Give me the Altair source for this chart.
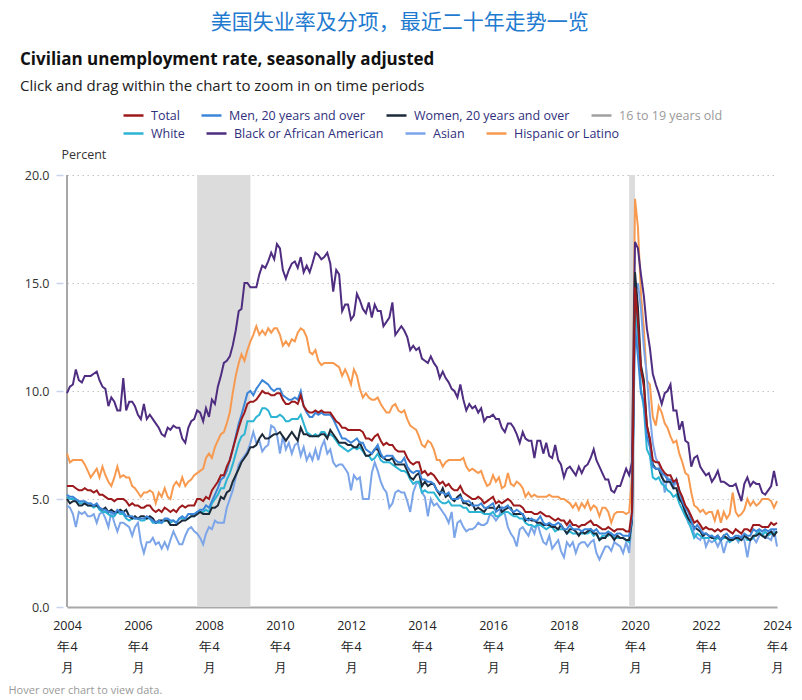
import altair as alt
import pandas as pd

# Monthly values, Apr 2004 .. Apr 2024 (one line per year)
total = [
    5.6,5.6,5.6,5.5,5.4,5.4,5.5,5.4,5.4,
    5.3,5.4,5.2,5.2,5.1,5.0,5.0,4.9,5.0,5.0,5.0,4.9,
    4.7,4.8,4.7,4.7,4.6,4.6,4.7,4.7,4.5,4.4,4.5,4.4,
    4.6,4.5,4.4,4.5,4.4,4.6,4.7,4.6,4.7,4.7,4.7,5.0,
    5.0,4.9,5.1,5.0,5.4,5.6,5.8,6.1,6.1,6.5,6.8,7.3,
    7.8,8.3,8.7,9.0,9.4,9.5,9.5,9.6,9.8,10.0,9.9,9.9,
    9.8,9.8,9.9,9.9,9.6,9.4,9.4,9.5,9.5,9.4,9.8,9.3,
    9.1,9.0,9.0,9.1,9.0,9.1,9.0,9.0,9.0,8.8,8.6,8.5,
    8.3,8.3,8.2,8.2,8.2,8.2,8.2,8.1,7.8,7.8,7.7,7.9,
    8.0,7.7,7.5,7.6,7.5,7.5,7.3,7.2,7.2,7.2,6.9,6.7,
    6.6,6.7,6.7,6.2,6.3,6.1,6.2,6.1,5.9,5.7,5.8,5.6,
    5.7,5.5,5.4,5.4,5.6,5.3,5.2,5.1,5.0,5.0,5.1,5.0,
    4.8,4.9,5.0,5.1,4.8,4.9,4.8,4.9,5.0,4.9,4.7,4.7,
    4.7,4.6,4.4,4.4,4.4,4.3,4.3,4.4,4.3,4.2,4.2,4.1,
    4.0,4.1,4.0,4.0,3.8,4.0,3.8,3.8,3.7,3.8,3.8,3.9,
    4.0,3.8,3.8,3.7,3.6,3.6,3.7,3.6,3.5,3.6,3.6,3.6,
    3.5,3.5,4.4,14.8,13.2,11.0,10.2,8.4,7.8,6.8,6.7,6.7,
    6.4,6.2,6.1,6.1,5.8,5.9,5.4,5.1,4.7,4.5,4.2,3.9,
    4.0,3.8,3.6,3.7,3.6,3.6,3.5,3.6,3.5,3.6,3.6,3.5,
    3.4,3.6,3.5,3.4,3.6,3.6,3.5,3.8,3.8,3.8,3.7,3.7,
    3.7,3.9,3.8,3.9,
]
men20 = [
    5.2,5.1,5.1,5.0,4.9,4.9,4.9,4.8,4.8,
    4.7,4.8,4.6,4.5,4.5,4.4,4.4,4.3,4.5,4.4,4.4,4.2,
    4.2,4.2,4.1,4.1,4.1,4.1,4.2,4.1,4.0,3.9,4.0,3.9,
    4.1,4.1,4.0,4.0,3.9,4.1,4.2,4.1,4.3,4.3,4.3,4.4,
    4.5,4.5,4.7,4.6,4.9,5.2,5.5,5.9,6.0,6.3,6.8,7.3,
    7.9,8.5,8.9,9.4,9.9,10.0,9.8,10.1,10.3,10.5,10.4,10.3,
    10.1,10.0,10.1,10.1,9.8,9.7,9.6,9.6,9.7,9.6,10.0,9.3,
    9.0,8.8,8.8,9.0,8.9,9.0,8.9,8.9,8.9,8.7,8.4,8.1,
    7.8,7.8,7.7,7.6,7.7,7.8,7.6,7.6,7.3,7.2,7.1,7.3,
    7.5,7.1,6.9,7.0,7.0,7.0,6.8,6.7,6.7,6.9,6.5,6.3,
    6.2,6.3,6.3,5.9,5.9,5.8,5.8,5.7,5.4,5.3,5.3,5.2,
    5.3,5.0,5.0,5.0,5.1,4.9,4.9,4.9,4.7,4.7,4.7,4.8,
    4.6,4.6,4.7,4.8,4.4,4.5,4.6,4.6,4.7,4.5,4.4,4.5,
    4.4,4.3,4.1,4.0,4.1,4.0,4.0,4.2,3.9,3.8,3.9,3.8,
    3.8,3.9,3.8,3.6,3.6,3.8,3.6,3.6,3.6,3.5,3.6,3.6,
    3.6,3.5,3.6,3.4,3.4,3.4,3.5,3.4,3.3,3.4,3.4,3.3,
    3.3,3.3,4.1,13.0,11.6,9.9,9.5,7.9,7.4,6.5,6.4,6.4,
    6.2,6.1,5.9,5.9,5.7,5.9,5.4,4.9,4.6,4.4,4.0,3.6,
    3.8,3.6,3.4,3.4,3.3,3.3,3.2,3.3,3.1,3.3,3.4,3.2,
    3.2,3.3,3.3,3.2,3.4,3.3,3.3,3.6,3.5,3.6,3.5,3.6,
    3.5,3.6,3.6,3.6,
]
women20 = [
    5.0,4.8,4.9,4.9,4.7,4.7,4.8,4.7,4.7,
    4.7,4.7,4.6,4.5,4.6,4.4,4.5,4.4,4.4,4.5,4.4,4.5,
    4.2,4.1,4.2,4.1,4.2,4.2,4.1,4.2,4.1,3.9,4.0,4.0,
    4.0,4.0,3.8,3.8,3.8,3.9,4.0,4.0,4.1,4.2,4.2,4.3,
    4.4,4.3,4.3,4.3,4.6,4.6,4.7,5.1,5.0,5.3,5.4,5.8,
    6.1,6.4,6.7,6.9,7.1,7.4,7.4,7.5,7.8,8.0,7.8,7.8,
    7.9,8.0,8.0,8.1,7.9,7.7,7.9,8.1,7.9,7.7,8.3,8.0,
    8.0,7.9,7.9,7.9,7.9,8.0,8.0,7.8,8.2,8.0,7.8,7.6,
    7.6,7.6,7.5,7.5,7.4,7.4,7.6,7.3,7.0,7.0,7.1,7.3,
    7.3,7.0,6.9,6.8,6.8,6.9,6.6,6.6,6.6,6.6,6.3,6.0,
    5.9,6.1,6.2,5.6,5.8,5.6,5.7,5.7,5.4,5.2,5.5,5.1,
    5.2,5.0,4.9,5.1,5.2,4.8,4.8,4.7,4.8,4.5,4.6,4.5,
    4.4,4.6,4.6,4.6,4.5,4.7,4.4,4.5,4.6,4.6,4.3,4.3,
    4.3,4.3,4.0,4.1,4.0,4.0,3.9,3.9,3.8,3.8,3.8,3.7,
    3.7,3.6,3.8,3.6,3.4,3.6,3.6,3.5,3.3,3.5,3.4,3.5,
    3.6,3.4,3.4,3.1,3.2,3.2,3.4,3.3,3.1,3.3,3.2,3.2,
    3.1,3.1,4.0,15.5,13.9,11.2,10.5,8.4,7.7,6.6,6.4,6.4,
    6.0,5.8,5.8,5.8,5.5,5.5,5.0,4.8,4.4,4.1,3.9,3.7,
    3.6,3.5,3.3,3.4,3.3,3.2,3.2,3.3,3.1,3.3,3.2,3.1,
    3.1,3.2,3.2,3.1,3.3,3.2,3.1,3.3,3.3,3.4,3.3,3.2,
    3.4,3.5,3.3,3.5,
]
white = [
    5.1,5.0,5.0,4.9,4.8,4.8,4.8,4.7,4.7,
    4.6,4.7,4.5,4.4,4.4,4.3,4.2,4.2,4.4,4.3,4.3,4.1,
    4.0,4.1,4.1,4.1,4.0,4.0,4.1,4.1,3.9,3.9,3.9,3.9,
    4.0,4.0,3.9,4.0,3.9,4.1,4.1,4.1,4.1,4.2,4.2,4.4,
    4.4,4.4,4.5,4.4,4.8,5.0,5.2,5.5,5.5,5.9,6.2,6.6,
    7.1,7.6,7.9,8.0,8.6,8.6,8.6,8.8,8.9,9.2,9.2,9.1,
    8.8,8.8,8.8,8.9,8.8,8.6,8.6,8.7,8.7,8.7,8.9,8.5,
    8.1,8.0,7.9,8.0,7.9,8.1,8.1,7.9,8.0,7.9,7.7,7.5,
    7.4,7.3,7.2,7.3,7.4,7.3,7.4,7.2,7.0,7.0,6.8,6.9,
    7.1,6.8,6.7,6.7,6.7,6.6,6.5,6.4,6.3,6.3,6.2,5.9,
    5.7,5.8,5.8,5.3,5.4,5.3,5.3,5.3,5.1,4.9,4.8,4.8,
    4.9,4.7,4.7,4.7,4.7,4.6,4.6,4.4,4.4,4.4,4.4,4.4,
    4.3,4.3,4.3,4.4,4.2,4.2,4.3,4.4,4.4,4.3,4.2,4.2,
    4.1,4.1,3.9,3.8,3.8,3.7,3.8,3.8,3.7,3.6,3.7,3.7,
    3.5,3.6,3.6,3.6,3.4,3.5,3.4,3.4,3.4,3.4,3.4,3.4,
    3.5,3.3,3.4,3.1,3.3,3.3,3.3,3.4,3.2,3.2,3.2,3.2,
    3.1,3.0,4.0,14.2,12.4,10.1,9.2,7.3,7.0,6.0,5.9,6.0,
    5.7,5.6,5.4,5.3,5.1,5.2,4.8,4.5,4.2,4.0,3.6,3.2,
    3.4,3.3,3.2,3.2,3.2,3.3,3.1,3.2,3.1,3.2,3.2,3.0,
    3.1,3.2,3.1,3.1,3.3,3.1,3.1,3.2,3.4,3.5,3.3,3.5,
    3.3,3.4,3.4,3.5,
]
black = [
    9.9,10.2,10.3,11.0,10.5,10.4,10.7,10.7,10.7,
    10.8,10.9,10.5,10.2,10.1,9.3,9.7,9.5,9.1,9.1,10.6,9.1,
    9.5,9.5,9.3,8.9,8.7,9.4,8.7,8.9,8.7,8.5,8.3,8.0,
    7.9,8.3,8.2,8.4,8.3,8.3,7.8,7.6,8.3,8.6,8.7,9.1,
    9.0,8.6,9.2,8.8,9.6,9.4,10.2,10.7,11.3,11.4,11.6,12.1,
    12.8,13.7,13.8,15.0,15.0,14.8,14.8,14.8,15.4,15.8,15.7,16.0,
    16.4,16.1,16.8,16.6,15.6,15.2,15.6,15.9,16.0,15.7,16.2,15.5,
    15.8,15.5,15.9,16.4,16.3,16.1,16.2,16.4,15.9,14.6,15.6,15.4,
    13.7,14.0,14.0,13.3,13.5,14.5,14.2,13.8,13.6,14.1,13.4,14.0,
    13.7,13.7,13.0,13.2,13.4,14.1,12.6,12.8,13.0,12.8,12.5,11.9,
    12.1,11.9,12.0,11.5,11.4,11.3,11.6,11.3,11.1,10.6,10.9,10.6,
    10.4,10.1,10.0,9.7,10.3,9.6,9.1,9.4,9.2,9.3,9.0,9.2,
    8.6,8.8,8.8,8.9,8.7,8.7,8.3,8.1,8.5,8.5,8.3,8.0,
    7.6,8.1,7.8,7.7,7.7,6.9,7.7,7.7,7.1,7.6,7.0,6.9,
    7.5,6.8,6.6,6.0,6.4,6.5,6.3,6.1,6.5,6.2,6.5,6.6,
    6.9,7.3,6.8,6.5,6.2,5.9,5.9,5.4,5.3,5.6,5.6,6.0,
    6.4,6.1,6.7,16.9,16.6,15.4,14.4,12.9,12.0,10.8,10.3,9.9,
    9.4,9.9,10.0,10.3,9.1,9.1,8.2,8.6,7.7,7.6,6.5,6.9,
    7.0,6.5,6.3,6.1,6.2,5.8,6.0,6.3,5.8,5.8,5.7,5.6,
    5.6,5.7,5.3,4.9,5.7,6.0,5.6,5.8,5.7,5.7,5.3,5.2,
    5.4,5.6,6.3,5.6,
]
asian = [
    4.7,4.6,4.3,3.7,4.4,4.3,4.4,4.2,4.2,
    4.3,3.9,4.3,4.4,4.1,3.7,4.4,3.9,3.5,3.9,3.9,3.8,
    3.7,3.3,3.7,3.9,3.0,2.5,3.0,3.0,3.2,2.9,3.0,2.7,
    3.0,2.7,3.1,3.5,3.2,2.9,2.9,3.3,3.6,3.7,3.5,3.4,
    3.2,2.9,3.4,3.7,3.6,4.0,3.9,3.9,3.9,4.6,5.0,5.4,
    6.0,6.6,6.8,7.0,7.2,7.6,8.1,7.6,7.7,7.2,7.4,7.5,
    8.4,8.3,8.0,7.1,7.9,7.3,7.6,7.1,7.5,7.6,7.0,7.4,
    6.8,7.1,6.8,7.3,6.8,7.4,7.7,7.1,7.3,6.7,6.5,6.6,
    6.6,6.4,6.2,5.4,6.1,5.9,6.0,5.0,5.0,5.0,6.2,6.7,
    6.3,5.8,5.5,5.3,4.6,4.8,5.3,5.4,5.3,5.3,4.9,4.4,
    5.3,5.7,5.8,5.3,5.1,4.2,5.0,4.7,4.8,4.6,4.4,4.2,
    3.9,4.4,3.2,3.9,4.0,3.7,3.5,3.6,3.6,3.7,3.9,3.8,
    3.8,3.9,4.3,4.2,4.0,4.2,4.6,4.3,3.7,3.4,3.2,2.8,
    3.6,3.7,3.5,3.3,3.7,3.4,3.9,3.4,3.0,2.9,3.3,2.7,
    2.9,3.1,2.6,2.3,3.0,2.8,3.0,2.5,2.9,3.0,3.0,2.8,
    3.0,3.1,2.5,2.2,2.5,2.8,2.8,2.6,3.0,2.9,2.8,2.5,
    3.0,2.5,4.1,14.5,15.0,13.8,12.0,10.7,8.9,7.6,6.9,6.6,
    6.3,5.3,6.0,5.7,5.5,5.9,5.3,4.8,4.3,3.9,3.7,3.4,
    3.2,3.1,3.4,2.8,3.1,3.0,3.1,2.8,3.1,2.5,3.0,3.1,
    3.1,3.2,3.0,3.3,3.1,2.3,3.1,3.2,3.0,3.3,3.4,3.2,
    3.2,3.1,3.6,2.8,
]
hispanic = [
    7.1,6.7,6.8,6.8,6.8,6.8,6.6,6.3,6.0,
    6.2,6.4,6.0,6.5,6.1,5.8,5.6,6.0,6.5,6.0,6.1,6.0,
    6.0,5.6,5.5,5.3,5.1,5.3,5.3,5.4,5.3,4.8,5.3,5.1,
    5.5,5.1,5.0,5.6,5.8,5.6,6.0,5.6,5.8,5.9,6.1,6.2,
    6.3,6.4,6.9,7.1,6.9,7.4,7.7,8.0,8.1,8.5,9.0,9.9,
    10.7,11.3,11.7,11.4,11.9,12.3,12.6,13.0,12.6,12.8,12.6,12.9,
    12.7,12.9,12.9,12.6,12.1,12.3,12.1,12.4,12.3,12.7,12.9,12.8,
    12.5,11.8,11.7,11.9,11.4,11.2,11.3,11.3,11.3,11.3,11.2,11.1,
    10.7,11.0,10.7,10.3,11.0,10.7,10.1,9.7,9.9,9.7,9.6,9.6,
    9.7,9.4,9.2,9.0,9.0,9.3,9.4,9.1,9.0,9.1,8.7,8.4,
    8.3,8.2,7.9,7.5,7.4,7.7,7.6,7.3,6.8,6.8,6.5,6.7,
    6.8,6.8,6.8,6.8,6.8,6.9,6.5,6.3,6.4,6.3,6.2,6.3,
    5.9,5.6,5.7,6.1,5.8,6.0,5.5,5.6,6.2,5.7,5.6,5.8,
    5.7,5.5,5.1,5.3,5.1,5.2,5.1,5.1,5.1,5.1,5.2,5.1,
    5.1,5.1,5.0,5.0,4.9,4.8,4.6,4.8,4.5,4.8,4.6,4.9,
    4.5,4.7,4.6,4.2,4.6,4.6,4.4,3.9,4.3,4.4,4.4,4.4,
    4.3,4.4,6.0,18.9,17.6,14.5,12.9,10.5,10.3,8.8,8.4,9.3,
    9.0,8.5,8.3,7.9,7.6,7.7,7.1,6.7,6.2,6.1,5.3,4.7,
    4.6,4.4,4.5,4.3,4.4,4.4,4.0,4.5,3.9,4.4,4.1,4.3,
    5.3,4.4,4.2,4.3,4.5,5.0,4.7,4.9,4.7,4.8,5.0,5.0,
    5.0,4.9,4.6,4.9,
]

# Legend row 1 and row 2 (each row is its own legend so it flows like the original)
row1_names = ["Total", "Men, 20 years and over", "Women, 20 years and over", "16 to 19 years old"]
row1_colors = ["#9C1A1C", "#3C86DA", "#1C2A3A", "#A0A0A0"]
row2_names = ["White", "Black or African American", "Asian", "Hispanic or Latino"]
row2_colors = ["#2BB4D3", "#4F2D80", "#7BA5E8", "#F79A50"]

recession_start = ["2007-12-01", "2020-02-01"]
recession_end = ["2009-06-01", "2020-04-01"]
tick_years = list(range(2004, 2025, 2))

dates = pd.date_range("2004-04-01", "2024-04-01", freq="MS").strftime("%Y-%m-%d")


def long_frame(pairs):
    rows = []
    for name, vals in pairs:
        assert len(vals) == len(dates), (name, len(vals))
        for d, v in zip(dates, vals):
            rows.append({"date": d, "value": v, "series": name})
    return pd.DataFrame(rows)


df_row2 = long_frame([("Hispanic or Latino", hispanic), ("Black or African American", black),
                      ("Asian", asian), ("White", white)])
df_row1 = long_frame([("Women, 20 years and over", women20),
                      ("Men, 20 years and over", men20), ("Total", total)])
rec_df = pd.DataFrame({"start": recession_start, "end": recession_end})
edge_df = pd.DataFrame({"date": [dates[0]]})

x_scale = alt.Scale(
    type="utc",
    domain=[alt.DateTime(year=2004, month=4, date=1, utc=True),
            alt.DateTime(year=2024, month=4, date=1, utc=True)],
)
y_scale = alt.Scale(domain=[0, 20], nice=False)

x_axis = alt.Axis(
    values=[alt.DateTime(year=y, month=4, date=1, utc=True) for y in tick_years],
    labelExpr="[utcFormat(datum.value, '%Y'), '年' + utcFormat(datum.value, '%-m'), '月']",
    ticks=False, grid=False, domainColor="#a8a8a8", domainWidth=2,
    labelPadding=12, labelFontSize=12.5, labelColor="#222222", labelLineHeight=21,
    labelAngle=0, labelFlush=False, labelOverlap=False,
    title="Hover over chart to view data.", titleX=-59, titleY=83,
    titleAlign="left", titleBaseline="middle", titleFontSize=11,
    titleFontWeight="normal", titleColor="#9a9a9a",
)
y_axis = alt.Axis(
    values=[0, 5, 10, 15, 20], format=".1f", domain=False,
    tickColor="#c9d3ec", tickSize=7, tickWidth=1.5, offset=4,
    labelPadding=7, labelFontSize=12.5, labelColor="#333333",
    grid=True, gridColor="#c4c4c4", gridDash=[1.5, 3.5], gridWidth=1.2,
    title="Percent", titleAngle=0, titleAlign="left", titleBaseline="alphabetic",
    titleX=-2, titleY=-17, titleFontSize=12.5, titleFontWeight="normal",
    titleColor="#333333",
)


def row_legend(y):
    return alt.Legend(
        orient="none", legendX=55, legendY=y, direction="horizontal",
        columnPadding=16, symbolType="stroke",
        symbolSize=400, symbolStrokeWidth=2.5, labelFontSize=12.5, labelOffset=6,
        labelLimit=0, title=None,
        labelColor={"expr": "datum.label == '16 to 19 years old' ? '#9a9a9a' : '#30307c'"},
    )


rec = alt.Chart(rec_df).mark_rect(color="#dcdcdc").encode(
    x=alt.X("start:T", scale=x_scale, axis=x_axis),
    x2="end:T",
    y=alt.datum(0, scale=y_scale, axis=y_axis),
    y2=alt.datum(20),
)
edge = alt.Chart(edge_df).mark_rule(color="#a8a8a8", strokeWidth=2).encode(
    x="date:T", y=alt.datum(0), y2=alt.datum(20),
)
lines_row2 = alt.Chart(df_row2).mark_line(strokeWidth=2).encode(
    x=alt.X("date:T", scale=x_scale, axis=x_axis),
    y=alt.Y("value:Q", scale=y_scale, axis=y_axis),
    color=alt.Color("series:N", scale=alt.Scale(domain=row2_names, range=row2_colors),
                    legend=row_legend(-53)),
)
lines_row1 = alt.Chart(df_row1).mark_line(strokeWidth=2).encode(
    x=alt.X("date:T", scale=x_scale, axis=x_axis),
    y=alt.Y("value:Q", scale=y_scale, axis=y_axis),
    stroke=alt.Stroke("series:N", scale=alt.Scale(domain=row1_names, range=row1_colors),
                      legend=row_legend(-71)),
)

inner = alt.layer(rec, edge, lines_row2, lines_row1).properties(
    width=710, height=432,
    title=alt.TitleParams(
        text="Civilian unemployment rate, seasonally adjusted",
        subtitle="Click and drag within the chart to zoom in on time periods",
        anchor="start", frame="bounds", dx=12, fontSize=17, fontWeight="bold",
        color="#111111", subtitleFontSize=15, subtitleColor="#222222",
        subtitlePadding=10, offset=53,
    ),
)

chart = alt.vconcat(inner).properties(
    padding={"top": 4, "left": 0, "right": 0, "bottom": 0},
    title=alt.TitleParams(
        text="美国失业率及分项，最近二十年走势一览", anchor="middle", fontSize=21,
        font="Noto Sans CJK SC", fontWeight="normal", color="#1f7bd0", offset=18,
    ),
).configure(font="Open Sans").configure_view(stroke=None)

chart.save("out.html", embed_options={"renderer": "svg", "actions": False})
